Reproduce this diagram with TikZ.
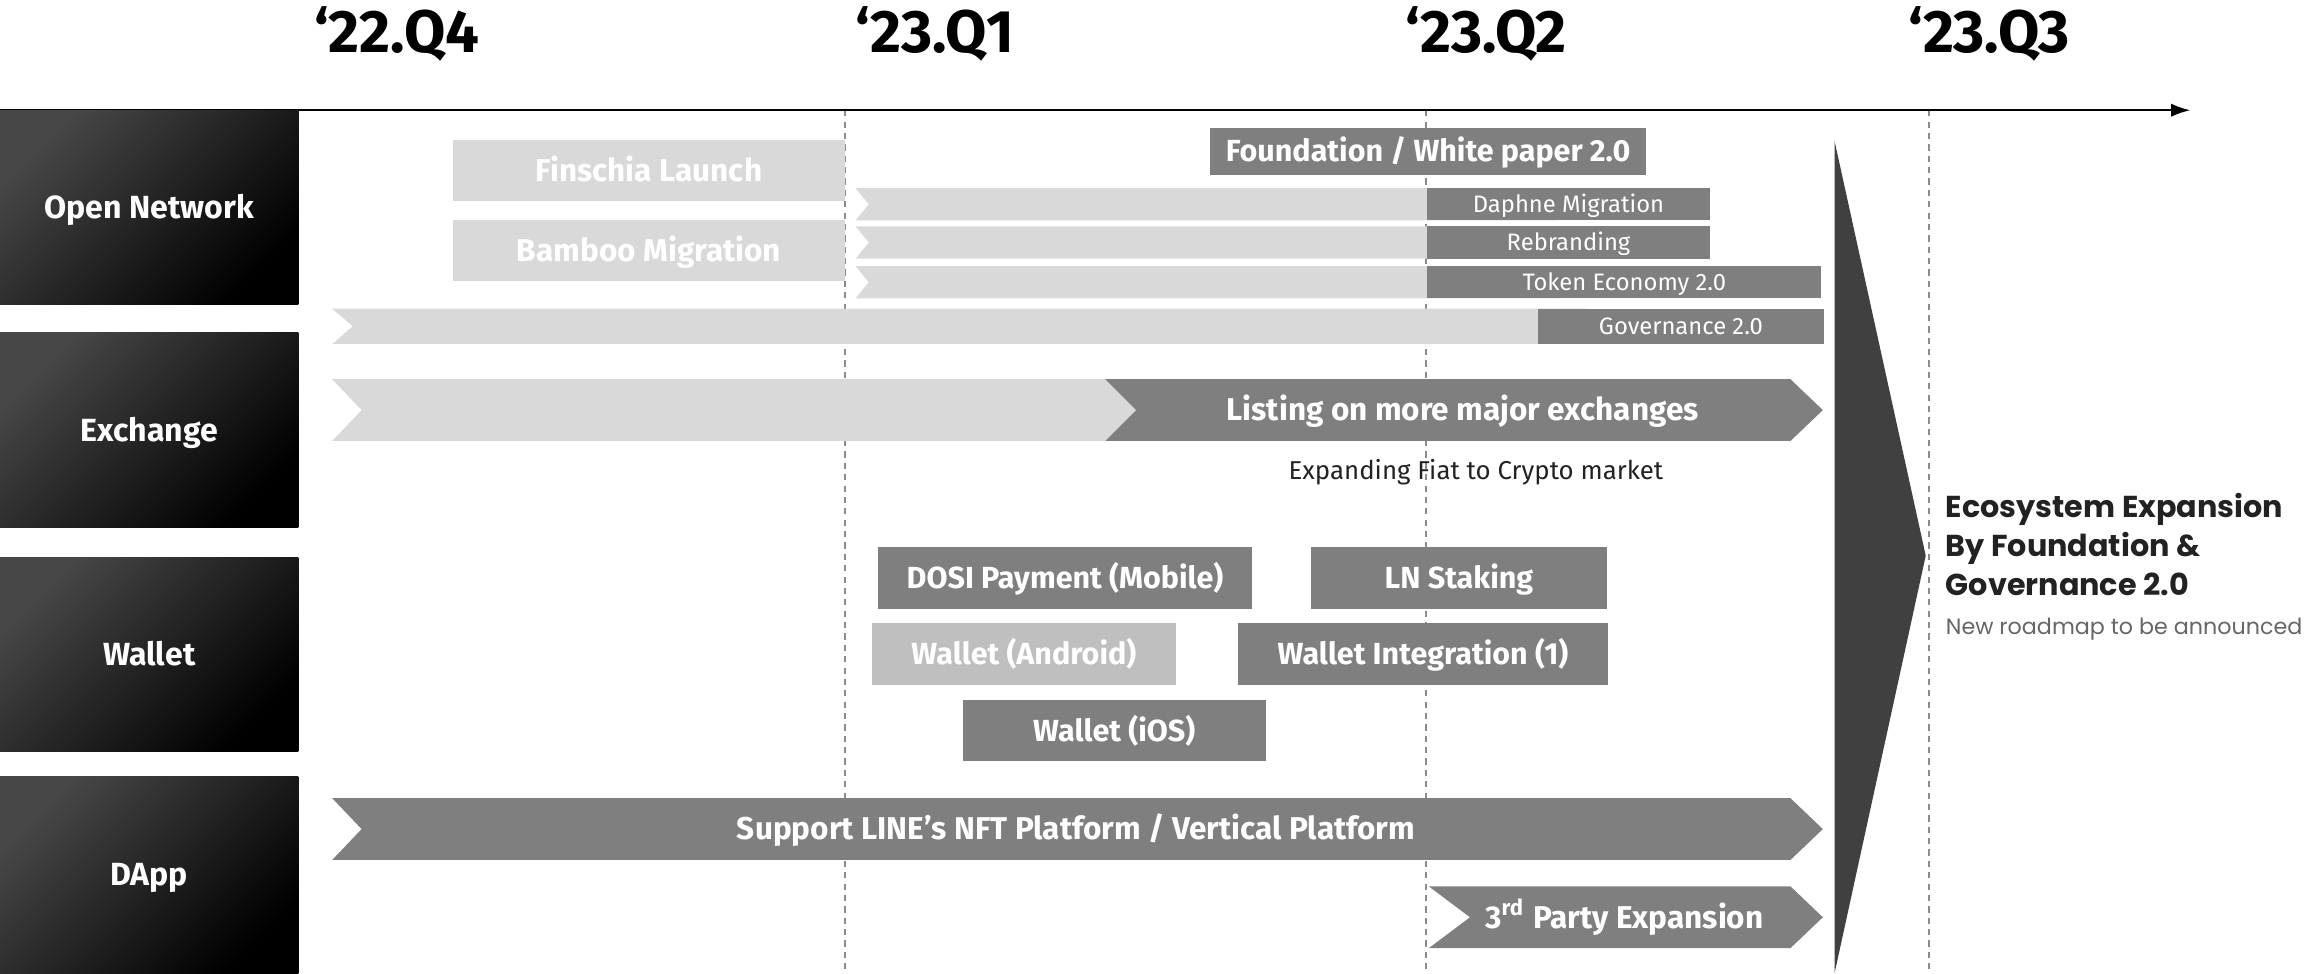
\documentclass[tikz,border=0pt]{standalone}
\usepackage{fontspec}
\setmainfont{Fira Sans}
\newfontfamily\popfont{Poppins}
\usetikzlibrary{arrows.meta}
\definecolor{lightbar}{HTML}{D9D9D9}
\definecolor{darkbar}{HTML}{7F7F7F}
\definecolor{midbar}{HTML}{BFBFBF}
\definecolor{triang}{HTML}{404040}
\definecolor{ink}{HTML}{222222}
\newcommand{\fsz}[2]{\fontsize{#1}{#2}\selectfont}
% box: name, x1, y1, x2, y2, style, text
\newcommand{\bx}[7]{\node[#6, anchor=north west, minimum width={(#4-#2)*0.01cm}, minimum height={(#5-#3)*0.01cm}] (#1) at (#2,#3) {#7};}
% chevron: x1, y1, x2, y2, notch, point, colour
\newcommand{\chev}[7]{\fill[#7] (#1,#2) -- (#3,#2) -- ({#3+#6},{(#2+#4)/2}) -- (#3,#4) -- (#1,#4) -- ({#1+#5},{(#2+#4)/2}) -- cycle;}
\begin{document}
\begin{tikzpicture}[x=0.01cm,y=-0.01cm,
  catbox/.style={top color=black!72, bottom color=black, shading angle=45, text=white, font=\bfseries\fsz{6.2}{7}, text height=4.3pt, text depth=0pt, inner sep=0pt, outer sep=0pt},
  lightbox/.style={fill=lightbar, text=white, font=\bfseries\fsz{6.1}{7}, text height=4.2pt, text depth=0pt, inner sep=0pt, outer sep=0pt},
  midbox/.style={fill=midbar, text=white, font=\bfseries\fsz{5.9}{7}, text height=4.1pt, text depth=0pt, inner sep=0pt, outer sep=0pt},
  darkbox/.style={fill=darkbar, text=white, font=\bfseries\fsz{5.9}{7}, text height=4.1pt, text depth=0pt, inner sep=0pt, outer sep=0pt},
  smallbox/.style={fill=darkbar, text=white, font=\fsz{4.6}{5.5}, text height=3.2pt, text depth=0pt, inner sep=0pt, outer sep=0pt},
  bartext/.style={text=white, font=\bfseries\fsz{6.1}{7}, text height=4.2pt, text depth=0pt, inner sep=0pt},
  qtitle/.style={font=\bfseries\fsz{11.6}{13}, text=black, text height=8pt, text depth=0pt, inner sep=0pt},
  vline/.style={black!45, dash pattern=on 1.2pt off 1pt, line width=0.35pt},
]
\useasboundingbox (0,0) rectangle (1568,662);

% quarter titles
\node[qtitle] (q1) at (270,22) {‘22.Q4};
\node[qtitle] (q2) at (636,22) {‘23.Q1};
\node[qtitle] (q3) at (1011,22) {‘23.Q2};
\node[qtitle] (q4) at (1353,22) {‘23.Q3};

% dashed quarter lines
\coordinate (d1t) at (575,75); \coordinate (d1b) at (575,662);
\coordinate (d2t) at (970,75); \coordinate (d2b) at (970,662);
\coordinate (d3t) at (1312,75); \coordinate (d3b) at (1312,662);
\draw[vline] (d1t) -- (d1b);
\draw[vline] (d2t) -- (d2b);
\draw[vline] (d3t) -- (d3b);

% time axis
\coordinate (ax0) at (0,75);
\coordinate (ax1) at (1490,75);
\draw[line width=0.4pt, -{Latex[length=0.13cm,width=0.09cm]}] (ax0) -- (ax1);

% category boxes
\bx{on}{0}{75}{203}{207}{catbox}{Open Network}
\bx{ex}{0}{226}{203}{359}{catbox}{Exchange}
\bx{wa}{0}{379}{203}{511}{catbox}{Wallet}
\bx{da}{0}{528}{203}{662}{catbox}{DApp}

% Open Network row
\bx{fin}{308}{95}{575}{137}{lightbox}{Finschia Launch}
\bx{bam}{308}{150}{575}{191}{lightbox}{Bamboo Migration}
\bx{fwp}{823}{87}{1120}{119}{darkbox}{Foundation / White paper 2.0}
\chev{582}{128}{1060}{150}{9}{0}{lightbar}
\chev{582}{154}{1060}{176}{9}{0}{lightbar}
\chev{582}{181}{1060}{203}{9}{0}{lightbar}
\chev{226}{210}{1080}{234}{14}{0}{lightbar}
\bx{dap}{971}{128}{1163}{150}{smallbox}{Daphne Migration}
\bx{reb}{971}{154}{1163}{176}{smallbox}{Rebranding}
\bx{tok}{971}{181}{1239}{203}{smallbox}{Token Economy 2.0}
\bx{gov}{1046}{210}{1241}{234}{smallbox}{Governance 2.0}

% Exchange row
\chev{226}{258}{800}{300}{20}{0}{lightbar}
\chev{752}{258}{1218}{300}{21}{22}{darkbar}
\node[bartext] (lst) at (995,279) {Listing on more major exchanges};
\node[text=ink, font=\fsz{5}{6}, text height=3.5pt, text depth=0pt, inner sep=0pt] (fiat) at (1004,320) {Expanding Fiat to Crypto market};

% Wallet row
\bx{dosi}{597}{372}{852}{414}{darkbox}{DOSI Payment (Mobile)}
\bx{lns}{892}{372}{1093}{414}{darkbox}{LN Staking}
\bx{wand}{593}{424}{800}{466}{midbox}{Wallet (Android)}
\bx{wint}{842}{424}{1094}{466}{darkbox}{Wallet Integration (1)}
\bx{wios}{655}{476}{861}{518}{darkbox}{Wallet (iOS)}

% DApp row
\chev{226}{543}{1218}{585}{20}{22}{darkbar}
\node[bartext] (nft) at (732,564) {Support LINE’s NFT Platform / Vertical Platform};
\chev{972}{603}{1218}{645}{28}{22}{darkbar}
\node[bartext] (trd) at (1105,624) {3\textsuperscript{rd} Party Expansion};

% big triangle
\fill[triang] (1248,96) -- (1310,378) -- (1248,662) -- cycle;

% right text
\node[anchor=north west, align=left, inner sep=0pt, text=ink, font=\popfont\bfseries\fsz{5.85}{7.5}] (eco) at (1323,335) {Ecosystem Expansion\\By Foundation \&\\Governance 2.0};
\node[anchor=north west, inner sep=0pt, text=black!60, font=\popfont\fsz{4.3}{5}] (new) at (1323,420) {New roadmap to be announced};
\end{tikzpicture}
\end{document}
